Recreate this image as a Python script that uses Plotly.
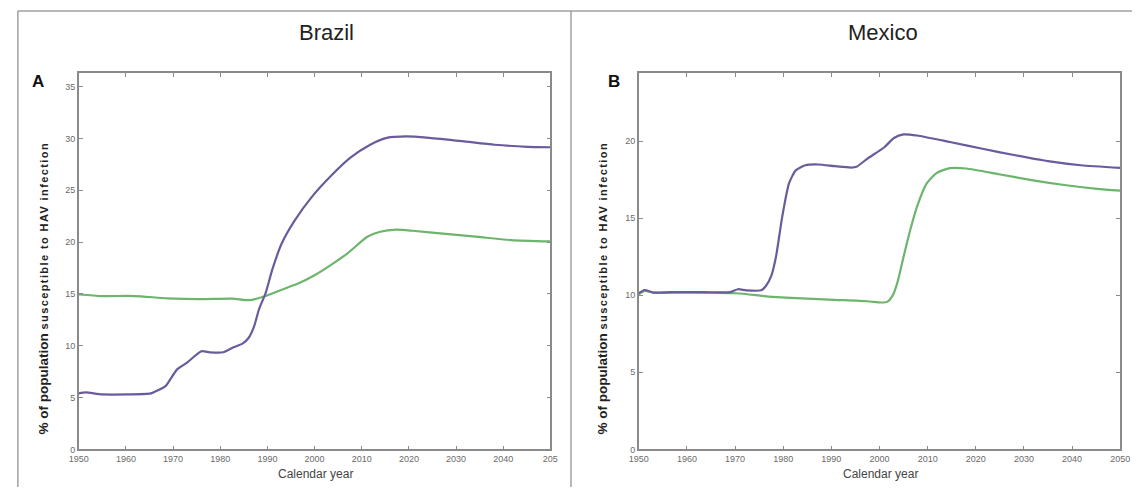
import plotly.graph_objects as go

# ---------------- data ----------------
br_purple_year = [1950, 1951.5, 1955, 1965.3, 1966.3, 1968.4, 1970.8, 1972.9, 1976, 1977.8, 1980.6, 1982.6,
                  1984.7, 1986, 1987.2, 1988.2, 1989.6, 1991, 1993, 1995.8, 1999.3, 2003.5, 2007.6, 2011.8,
                  2015.3, 2019.4, 2024.3, 2031.3, 2038.2, 2045.1, 2050]
br_purple_val = [5.4, 5.5, 5.3, 5.4, 5.6, 6.1, 7.7, 8.35, 9.47, 9.37, 9.37, 9.8,
                 10.2, 10.75, 11.9, 13.5, 15.06, 17.3, 19.85, 22.1, 24.3, 26.4, 28.15, 29.4,
                 30.06, 30.2, 30.06, 29.74, 29.4, 29.2, 29.16]

br_green_year = [1950, 1954.9, 1961.8, 1968.75, 1975.7, 1982.6, 1986.1, 1989.6, 1993, 1996.5, 2000, 2003.5,
                 2006.9, 2009, 2011.1, 2013.9, 2017.4, 2020.8, 2027.8, 2034.7, 2041.7, 2050]
br_green_val = [14.95, 14.8, 14.8, 14.58, 14.5, 14.55, 14.4, 14.8, 15.4, 16.0, 16.8, 17.8,
                18.9, 19.7, 20.5, 21.0, 21.2, 21.1, 20.8, 20.5, 20.2, 20.07]

mx_purple_year = [1950, 1951.2, 1953, 1956.7, 1963.5, 1969, 1970.6, 1972.3, 1975.4, 1976.4, 1977.5, 1978.5,
                  1979.8, 1981.2, 1982.6, 1984.6, 1987.3, 1990.7, 1994.1, 1995.2, 1997.5, 2001, 2003,
                  2005, 2007.8, 2014.6, 2021.4, 2028.2, 2035, 2041.8, 2050]
mx_purple_val = [10.13, 10.34, 10.17, 10.2, 10.2, 10.2, 10.39, 10.32, 10.32, 10.6, 11.24, 12.5,
                 15.1, 17.25, 18.1, 18.43, 18.48, 18.37, 18.28, 18.33, 18.86, 19.6, 20.2,
                 20.43, 20.36, 19.94, 19.5, 19.08, 18.7, 18.43, 18.26]

mx_green_year = [1950, 1951.2, 1953, 1960, 1970.3, 1977.1, 1983.9, 1990.7, 1997.5, 2000.3, 2001.6, 2002.7,
                 2003.7, 2005, 2006.4, 2007.8, 2009.8, 2011.9, 2014.6, 2018, 2024.8, 2031.6, 2038.4,
                 2045.2, 2050]
mx_green_val = [10.06, 10.28, 10.17, 10.17, 10.13, 9.91, 9.79, 9.7, 9.61, 9.53, 9.57, 9.96,
                10.8, 12.5, 14.25, 15.75, 17.25, 17.94, 18.24, 18.22, 17.85, 17.47, 17.15,
                16.9, 16.78]

x_tickvals = [1950, 1960, 1970, 1980, 1990, 2000, 2010, 2020, 2030, 2040, 2050]
x_ticktext_left = ["1950", "1960", "1970", "1980", "1990", "2000", "2010", "2020", "2030", "2040", "205"]
x_ticktext_right = ["1950", "1960", "1970", "1980", "1990", "2000", "2010", "2020", "2030", "2040", "2050"]
y_ticks_left = [0, 5, 10, 15, 20, 25, 30, 35]
y_ticks_right = [0, 5, 10, 15, 20]

PURPLE = "#6a5b9d"
GREEN = "#6db46d"

W, H = 1142, 492

fig = go.Figure()

def line(xs, ys, color, xa, ya):
    fig.add_trace(go.Scatter(x=xs, y=ys, mode="lines",
                             line=dict(color=color, width=2.2, shape="spline", smoothing=0.6),
                             xaxis=xa, yaxis=ya, showlegend=False, hoverinfo="skip"))

line(br_green_year, br_green_val, GREEN, "x", "y")
line(br_purple_year, br_purple_val, PURPLE, "x", "y")
line(mx_green_year, mx_green_val, GREEN, "x2", "y2")
line(mx_purple_year, mx_purple_val, PURPLE, "x2", "y2")

ydom = [(H - 454) / H, (H - 74) / H]
axis_common = dict(showline=True, linecolor="#8a8a8a", linewidth=1.5, mirror="allticks", ticks="inside",
                   ticklen=4, tickcolor="#8a8a8a", showgrid=False, zeroline=False,
                   tickfont=dict(family="Liberation Sans, Arial", size=9, color="#6a6a6a"))

fig.update_layout(
    width=W, height=H, margin=dict(l=0, r=0, t=0, b=0),
    paper_bgcolor="white", plot_bgcolor="white",
    xaxis=dict(domain=[70 / W, 550 / W], range=[1950, 2050], anchor="y",
               tickvals=x_tickvals, ticktext=x_ticktext_left, **axis_common),
    yaxis=dict(domain=ydom, range=[0, 36.3], anchor="x", tickvals=y_ticks_left, **axis_common),
    xaxis2=dict(domain=[640 / W, 1130 / W], range=[1950, 2050], anchor="y2",
                tickvals=x_tickvals, ticktext=x_ticktext_right, **axis_common),
    yaxis2=dict(domain=ydom, range=[0, 24.4], anchor="x2", tickvals=y_ticks_right, **axis_common),
)

# frame / divider lines
border = dict(color="#a0a0a0", width=1.5)
fig.add_shape(type="line", xref="paper", yref="paper", x0=8 / W, x1=1, y0=(H - 11) / H, y1=(H - 11) / H, line=border)
fig.add_shape(type="line", xref="paper", yref="paper", x0=8 / W, x1=8 / W, y0=0, y1=(H - 11) / H, line=border)
fig.add_shape(type="line", xref="paper", yref="paper", x0=571 / W, x1=571 / W, y0=0, y1=(H - 11) / H, line=border)

def ann(text, x, y, size, color="#222222", bold=False, angle=0, family="Liberation Sans, Arial"):
    fig.add_annotation(text=f"<b>{text}</b>" if bold else text, x=x / W, y=(H - y) / H, xref="paper", yref="paper",
                       showarrow=False, textangle=angle, xanchor="center", yanchor="middle",
                       font=dict(family=family, size=size, color=color))

ann("Brazil", 322, 33, 22)
ann("Mexico", 889, 33, 22)
ann("A", 29, 82, 17, color="#111111", bold=True)
ann("B", 615, 82, 17, color="#111111", bold=True)
ytitle = ("% of population <span style='font-size:11px;letter-spacing:1.4px'>"
          "susceptible to HAV infection</span>")
ann(ytitle, 34, 291, 13.5, color="#222222", bold=True, angle=-90)
ann(ytitle, 603, 291, 13.5, color="#222222", bold=True, angle=-90)
ann("Calendar year", 311, 479, 12, color="#444444")
ann("Calendar year", 886, 479, 12, color="#444444")

fig.write_html("out.html", config={"displayModeBar": False},
               post_script="document.body.style.margin='0';document.body.style.overflow='hidden';")
